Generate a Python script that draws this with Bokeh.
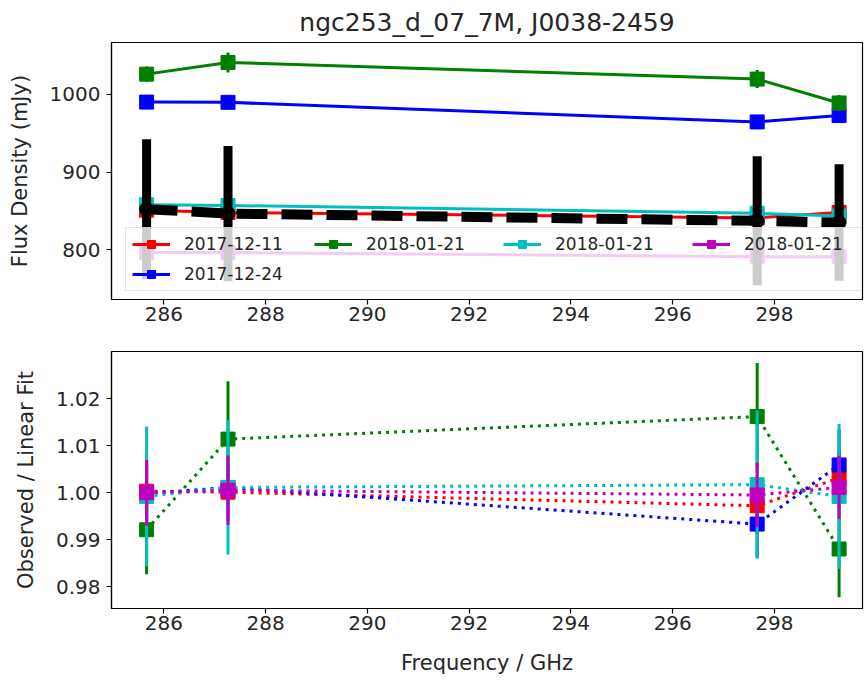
import numpy as np
from bokeh.plotting import figure
from bokeh.models import (ColumnDataSource, Legend, LegendItem, FixedTicker,
                          PrintfTickFormatter, Range1d)
from bokeh.layouts import column
from bokeh.embed import file_html
from bokeh.resources import INLINE

# ---------------- data ----------------
freq = [285.66, 287.26, 297.66, 299.27]
series_labels = ["2017-12-11", "2017-12-24", "2018-01-21", "2018-01-21", "2018-01-21"]
series_colors = ["#ff0000", "#0000ff", "#008000", "#00bfbf", "#bf00bf"]

flux_red = [851.0, 848.0, 841.0, 848.0]
flux_blue = [990.0, 989.7, 964.5, 972.7]
flux_green = [1026.0, 1041.0, 1019.6, 988.9]
flux_cyan = [858.0, 857.0, 847.0, 843.5]
flux_magenta = [796.5, 796.5, 791.0, 791.0]

err_red = [5.0, 5.0, 5.0, 5.0]
err_blue = [7.0, 7.0, 7.0, 7.0]
err_green = [9.8, 12.8, 11.6, 10.2]
err_cyan = [12.8, 12.2, 13.4, 13.0]
err_magenta = [5.6, 5.9, 5.5, 5.3]

fit_flux = [852.2, 846.6, 837.2, 835.0]
fit_err = [90.0, 87.0, 83.0, 75.0]

ratio_red = [1.0003, 1.0001, 0.9972, 1.0031]
ratio_blue = [0.9998, 1.0011, 0.9933, 1.0059]
ratio_green = [0.9921, 1.0114, 1.0162, 0.9880]
ratio_cyan = [0.9992, 1.0011, 1.0017, 0.9992]
ratio_magenta = [1.0000, 1.0005, 0.9995, 1.0011]

rerr_red = [0.006, 0.006, 0.006, 0.006]
rerr_blue = [0.007, 0.007, 0.007, 0.0075]
rerr_green = [0.0095, 0.0123, 0.0114, 0.0103]
rerr_cyan = [0.0149, 0.0143, 0.0158, 0.0154]
rerr_magenta = [0.0070, 0.0074, 0.0069, 0.0067]

x_ticks = [286, 288, 290, 292, 294, 296, 298]
flux_ticks = [800, 900, 1000]
ratio_ticks = [0.98, 0.99, 1.00, 1.01, 1.02]

flux_sets = [flux_red, flux_blue, flux_green, flux_cyan, flux_magenta]
ferr_sets = [err_red, err_blue, err_green, err_cyan, err_magenta]
ratio_sets = [ratio_red, ratio_blue, ratio_green, ratio_cyan, ratio_magenta]
rerr_sets = [rerr_red, rerr_blue, rerr_green, rerr_cyan, rerr_magenta]

FONT = "DejaVu Sans"
TXT = "#262626"
x_range = Range1d(284.97, 299.73)


def style(p, yticks):
    p.grid.visible = False
    p.outline_line_color = "black"
    p.outline_line_width = 1.2
    p.outline_line_alpha = 1
    for ax in (p.xaxis[0], p.yaxis[0]):
        ax.axis_line_color = "black"
        ax.axis_line_width = 1.2
        ax.major_tick_in = 0
        ax.major_tick_out = 5
        ax.major_tick_line_width = 1.2
        ax.minor_tick_line_color = None
        ax.major_label_text_font = FONT
        ax.major_label_text_font_size = "20px"
        ax.major_label_text_color = TXT
        ax.axis_label_text_font = FONT
        ax.axis_label_text_font_size = "21px"
        ax.axis_label_text_font_style = "normal"
        ax.axis_label_text_color = TXT
    p.xaxis.ticker = FixedTicker(ticks=x_ticks)
    p.yaxis.ticker = FixedTicker(ticks=yticks)
    p.xaxis.major_label_standoff = 2
    p.yaxis.major_label_standoff = 6
    p.yaxis.axis_label_standoff = 15


# ---------------- top panel ----------------
p1 = figure(width=865, height=335, x_range=x_range, y_range=Range1d(736, 1066.7),
            output_backend="svg", toolbar_location=None,
            min_border_left=111, min_border_right=3, min_border_top=41, min_border_bottom=36,
            title="ngc253_d_07_7M, J0038-2459")
p1.title.text_font = FONT
p1.title.text_font_size = "25px"
p1.title.text_font_style = "normal"
p1.title.align = "center"
p1.title.text_color = TXT
p1.title.standoff = 11
style(p1, flux_ticks)
p1.yaxis.axis_label = "Flux Density (mJy)"

items = []
for lab, col, fl, fe in zip(series_labels, series_colors, flux_sets, ferr_sets):
    src = ColumnDataSource(dict(x=freq, y=fl,
                                lo=[a - b for a, b in zip(fl, fe)],
                                hi=[a + b for a, b in zip(fl, fe)]))
    p1.segment(x0="x", y0="lo", x1="x", y1="hi", source=src, line_color=col, line_width=3)
    r_line = p1.line("x", "y", source=src, line_color=col, line_width=3)
    r_mark = p1.scatter("x", "y", source=src, marker="square", size=14,
                        fill_color=col, line_color=col)
    r_bar = p1.scatter(x=[np.nan], y=[np.nan], marker="dash", angle=np.pi / 2, size=20,
                       line_color=col, line_width=3)
    items.append(LegendItem(label=lab, renderers=[r_line, r_bar, r_mark]))

fit_src = ColumnDataSource(dict(x=freq, y=fit_flux,
                                lo=[a - b for a, b in zip(fit_flux, fit_err)],
                                hi=[a + b for a, b in zip(fit_flux, fit_err)]))
p1.segment(x0="x", y0="lo", x1="x", y1="hi", source=fit_src, line_color="black", line_width=9)
p1.line("x", "y", source=fit_src, line_color="black", line_width=10, line_dash="31 14")
p1.scatter("x", "y", source=fit_src, marker="circle", size=14, fill_color="black", line_color="black")

common = dict(orientation="vertical", glyph_width=38, glyph_height=20, label_standoff=14,
              label_height=20, spacing=10, padding=6, margin=0,
              label_text_font=FONT, label_text_font_size="17px", label_text_color=TXT)

# column 1 carries the legend box (white, 80% opaque, light grey border)
leg1 = Legend(items=[items[0], items[1]], location=(14, 8), label_width=671,
              border_line_color="#cccccc", border_line_width=1,
              background_fill_color="white", background_fill_alpha=0.8, **common)
p1.add_layout(leg1, "center")
# columns 2-4 sit on top of that box
for it, lx in zip([items[2], items[3], items[4]], [203, 392, 581]):
    lg = Legend(items=[it], location=(lx, 45), border_line_color=None,
                background_fill_alpha=0, **common)
    p1.add_layout(lg, "center")

# ---------------- bottom panel ----------------
p2 = figure(width=865, height=346, x_range=x_range, y_range=Range1d(0.97532, 1.03006),
            output_backend="svg", toolbar_location=None,
            min_border_left=111, min_border_right=3, min_border_top=16, min_border_bottom=73)
style(p2, ratio_ticks)
p2.yaxis.formatter = PrintfTickFormatter(format="%.2f")
p2.yaxis.axis_label = "Observed / Linear Fit"
p2.xaxis.axis_label = "Frequency / GHz"
p2.xaxis.axis_label_standoff = 18

for col, rv, re in zip(series_colors, ratio_sets, rerr_sets):
    src = ColumnDataSource(dict(x=freq, y=rv,
                                lo=[a - b for a, b in zip(rv, re)],
                                hi=[a + b for a, b in zip(rv, re)]))
    p2.segment(x0="x", y0="lo", x1="x", y1="hi", source=src, line_color=col, line_width=3)
    p2.line("x", "y", source=src, line_color=col, line_width=3, line_dash="3 5")
    p2.scatter("x", "y", source=src, marker="square", size=14, fill_color=col, line_color=col)

layout = column(p1, p2)
open("out.html", "w").write(file_html(layout, INLINE))
